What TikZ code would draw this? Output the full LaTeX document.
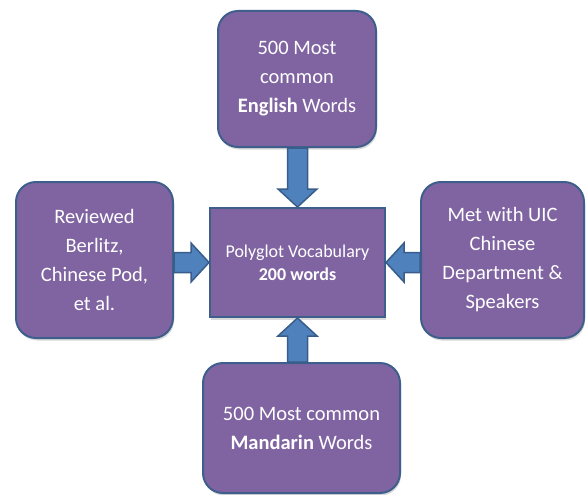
\documentclass[tikz,border=0pt]{standalone}
\usepackage{fontspec}
\setmainfont{Carlito}
\usetikzlibrary{calc,shadows}
\definecolor{boxpurple}{HTML}{8064A2}
\definecolor{boxline}{HTML}{3E5F8C}
\definecolor{arrblue}{HTML}{4F81BD}
\definecolor{arrline}{HTML}{385D8A}
\begin{document}
\begin{tikzpicture}[x=1pt,y=-1pt,
  srcbox/.style={draw=boxline,line width=2pt,fill=boxpurple,rounded corners=20pt,text=white,align=center,inner sep=0pt,
    font=\fontsize{20.5}{29}\selectfont,drop shadow={shadow xshift=1pt,shadow yshift=-2.5pt,opacity=.3}},
  mainbox/.style={srcbox,rounded corners=0pt,font=\fontsize{18}{23}\selectfont},
  blockarr/.style={draw=arrline,line width=1.5pt,fill=arrblue,line join=miter,
    to path={let \p1=(\tikztostart),\p2=(\tikztotarget),\n1={atan2(\y2-\y1,\x2-\x1)},\n2={veclen(\x2-\x1,\y2-\y1)} in
      ([shift={(\p1)},rotate=\n1]0pt,\sw pt)--([shift={(\p1)},rotate=\n1]{\n2-\hl pt},\sw pt)
      --([shift={(\p1)},rotate=\n1]{\n2-\hl pt},\hw pt)--([shift={(\p1)},rotate=\n1]\n2,0pt)
      --([shift={(\p1)},rotate=\n1]{\n2-\hl pt},-\hw pt)--([shift={(\p1)},rotate=\n1]{\n2-\hl pt},-\sw pt)
      --([shift={(\p1)},rotate=\n1]0pt,-\sw pt)--cycle}}]
\pgfmathsetmacro{\sw}{10}
\pgfmathsetmacro{\hw}{19.5}
\pgfmathsetmacro{\hl}{18}
\useasboundingbox(0,0)rectangle(586,495);
% boxes
\node[mainbox,minimum width=175pt,minimum height=109pt](vocab)at(297.5,262.5){Polyglot Vocabulary\\\textbf{200 words}};
\node[srcbox,minimum width=158pt,minimum height=136pt](eng)at(297,79){500 Most\\common\\\textbf{English} Words};
\node[srcbox,minimum width=157pt,minimum height=156pt](berlitz)at(94.5,260){Reviewed\\Berlitz,\\Chinese Pod,\\et al.};
\node[srcbox,minimum width=163pt,minimum height=156pt](uic)at(502.5,260){Met with UIC\\Chinese\\Department \&\\Speakers};
\node[srcbox,minimum width=197pt,minimum height=130pt](mandarin)at(301.5,428){500 Most common\\\textbf{Mandarin} Words};
% arrows into the middle
\foreach \xa/\xb in {vocab.north |- eng.south/vocab.north,berlitz.east |- vocab.west/vocab.west,uic.west |- vocab.east/vocab.east,vocab.south |- mandarin.north/vocab.south}{\draw[blockarr](\xa)to(\xb);}
\end{tikzpicture}
\end{document}
